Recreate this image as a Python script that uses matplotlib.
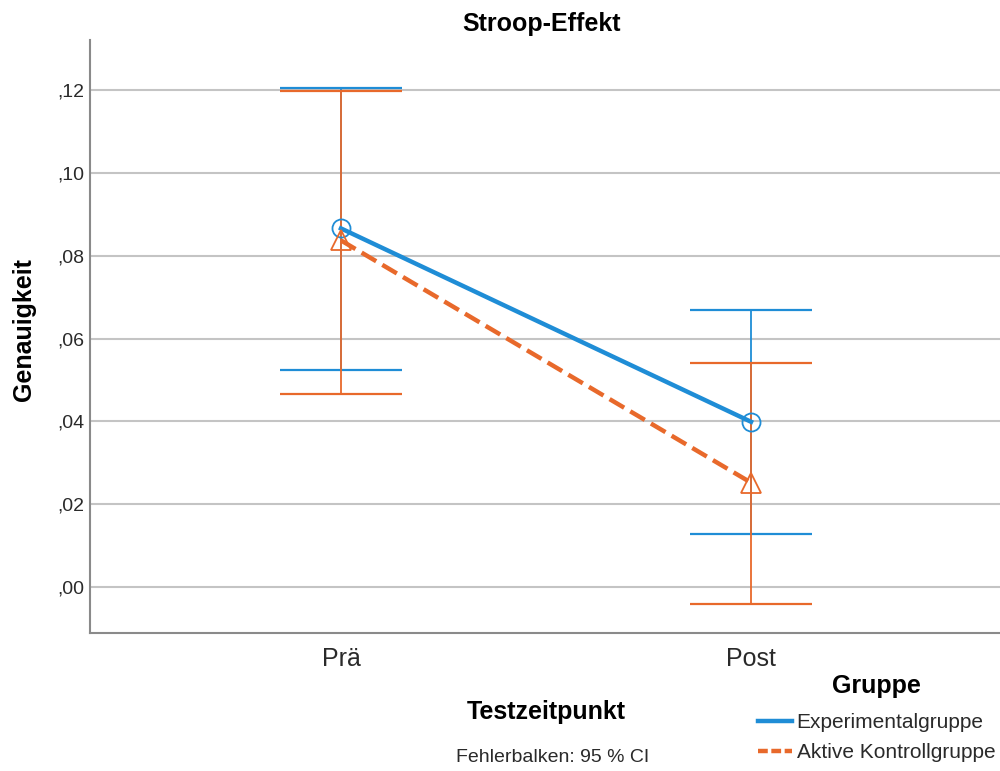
import matplotlib
matplotlib.use("Agg")
import matplotlib.pyplot as plt
from matplotlib.lines import Line2D

# --- Daten ---
zeitpunkte = ["Prä", "Post"]
gruppen = ["Experimentalgruppe", "Aktive Kontrollgruppe"]

exp_mean = [0.0866, 0.0399]
exp_lower = [0.0525, 0.0128]
exp_upper = [0.1205, 0.0670]

kon_mean = [0.0837, 0.0252]
kon_lower = [0.0465, -0.0041]
kon_upper = [0.1198, 0.0542]

y_ticks = [0.00, 0.02, 0.04, 0.06, 0.08, 0.10, 0.12]
y_tick_labels = [",00", ",02", ",04", ",06", ",08", ",10", ",12"]

blau = "#1f8dd6"
orange = "#e8692b"

plt.rcParams["font.family"] = ["Liberation Sans", "DejaVu Sans"]

W, H = 1000, 771
fig = plt.figure(figsize=(W / 100, H / 100), dpi=100)
ax = fig.add_axes([90 / W, 1 - 633 / H, (1000 - 90) / W, (633 - 40) / H])

x = list(range(len(zeitpunkte)))

# --- Fehlerbalken ---
for mean, lo, hi, col in [
    (exp_mean, exp_lower, exp_upper, blau),
    (kon_mean, kon_lower, kon_upper, orange),
]:
    yerr = [[m - l for m, l in zip(mean, lo)], [h - m for m, h in zip(mean, hi)]]
    ax.errorbar(x, mean, yerr=yerr, fmt="none", ecolor=col, elinewidth=1.3,
                capsize=44, capthick=1.6, zorder=3)

# --- Linien ---
ax.plot(x, exp_mean, color=blau, linewidth=3.2, zorder=4)
ax.plot(x, kon_mean, color=orange, linewidth=3.2, dashes=(3.8, 1.6), zorder=4)
ax.plot(x, exp_mean, linestyle="none", marker="o", markersize=13,
        markerfacecolor="none", markeredgecolor=blau, markeredgewidth=1.3, zorder=5)
ax.plot(x, kon_mean, linestyle="none", marker="^", markersize=14,
        markerfacecolor="none", markeredgecolor=orange, markeredgewidth=1.3, zorder=5)

# --- Achsen ---
ax.set_xlim(-0.612, 1.607)
ax.set_ylim(-0.0111, 0.1321)
ax.set_xticks(x)
ax.set_xticklabels(zeitpunkte, fontsize=18, color="#2a2a2a")
ax.set_yticks(y_ticks)
ax.set_yticklabels(y_tick_labels, fontsize=14, color="#2a2a2a")
ax.tick_params(axis="both", length=0)
ax.tick_params(axis="x", pad=10)
ax.tick_params(axis="y", pad=4)

ax.grid(axis="y", color="#c4c4c4", linewidth=1.5)
ax.set_axisbelow(True)
for s in ["top", "right"]:
    ax.spines[s].set_visible(False)
for s in ["left", "bottom"]:
    ax.spines[s].set_color("#8a8a8a")
    ax.spines[s].set_linewidth(1.5)

# --- Texte ---
fig.text(542 / W, 1 - 24 / H, "Stroop-Effekt", ha="center", va="center",
         fontsize=18, fontweight="bold")
fig.text(24 / W, 1 - 330 / H, "Genauigkeit", ha="center", va="center",
         rotation=90, fontsize=18, fontweight="bold")
fig.text(546 / W, 1 - 712 / H, "Testzeitpunkt", ha="center", va="center",
         fontsize=18, fontweight="bold")
fig.text(553 / W, 1 - 758 / H, "Fehlerbalken: 95 % CI", ha="center", va="center",
         fontsize=14, color="#2a2a2a")

# --- Legende ---
fig.text(876 / W, 1 - 686 / H, "Gruppe", ha="center", va="center",
         fontsize=18, fontweight="bold")
handles = [
    Line2D([], [], color=blau, linewidth=3.2),
    Line2D([], [], color=orange, linewidth=3.2, dashes=(2.2, 0.8)),
]
leg = fig.legend(handles, gruppen, loc="upper left",
                 bbox_to_anchor=(758 / W, 1 - 713 / H), frameon=False,
                 fontsize=15, handlelength=1.65,
                 handletextpad=0.2, labelspacing=0.55, borderpad=0,
                 borderaxespad=0)
for t in leg.get_texts():
    t.set_color("#2a2a2a")

fig.savefig("out.png", dpi=100)
